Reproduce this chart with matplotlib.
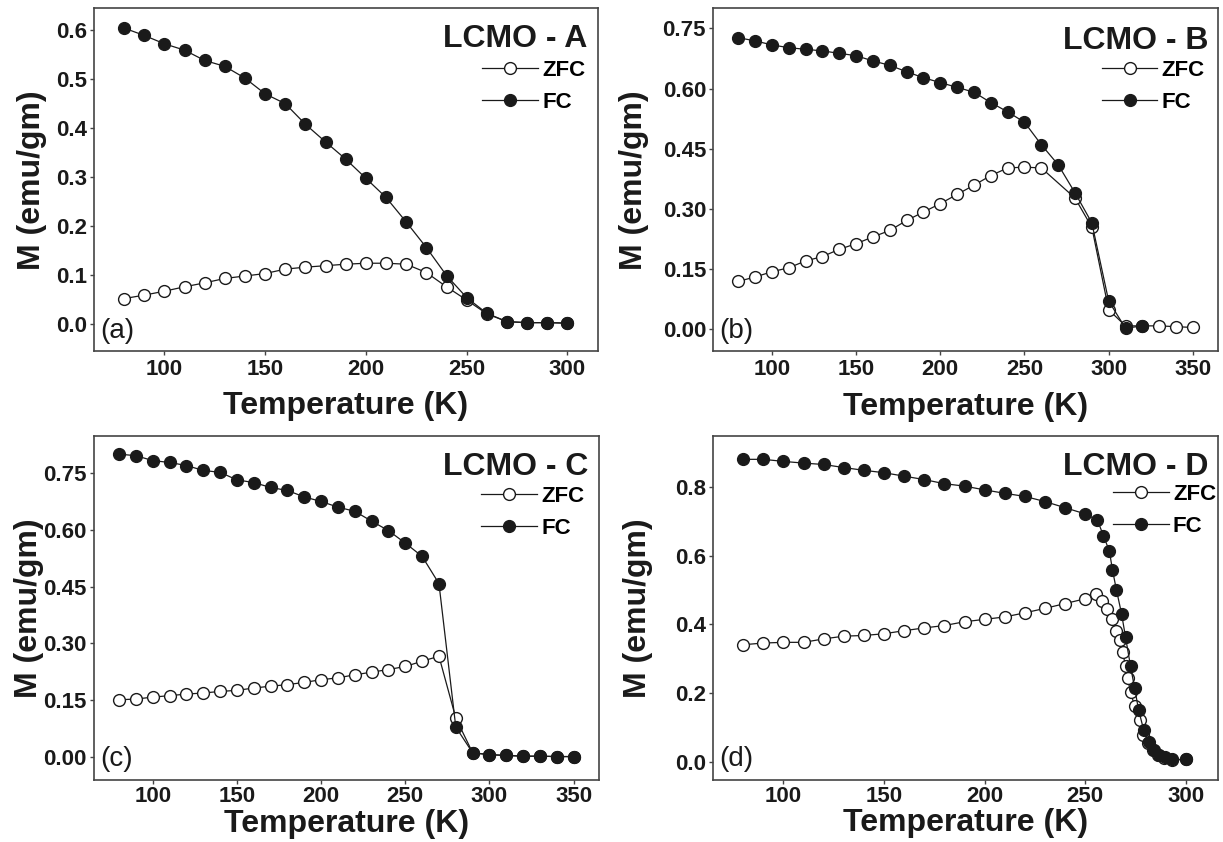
import matplotlib
matplotlib.use('Agg')
import matplotlib.pyplot as plt

plt.rcParams['font.family'] = ['Liberation Sans', 'DejaVu Sans']

# ---- data (T in K, M in emu/gm) ----
T_a = [80, 90, 100, 110, 120, 130, 140, 150, 160, 170, 180, 190, 200, 210, 220,
       230, 240, 250, 260, 270, 280, 290, 300]
fc_a = [0.603, 0.588, 0.571, 0.558, 0.537, 0.525, 0.501, 0.469, 0.449, 0.407, 0.371,
        0.336, 0.297, 0.258, 0.208, 0.156, 0.099, 0.054, 0.022, 0.005, 0.003, 0.003, 0.002]
zfc_a = [0.052, 0.059, 0.067, 0.076, 0.084, 0.093, 0.098, 0.103, 0.112, 0.116, 0.119,
         0.122, 0.124, 0.124, 0.122, 0.105, 0.076, 0.049, 0.021, 0.005, 0.003, 0.003, 0.002]

T_b_fc = [80, 90, 100, 110, 120, 130, 140, 150, 160, 170, 180, 190, 200, 210, 220,
          230, 240, 250, 260, 270, 280, 290, 300, 310, 320]
fc_b = [0.727, 0.719, 0.709, 0.702, 0.698, 0.694, 0.688, 0.682, 0.669, 0.658, 0.642,
        0.627, 0.615, 0.603, 0.591, 0.565, 0.542, 0.516, 0.460, 0.410, 0.340, 0.265,
        0.070, 0.002, 0.008]
T_b_zfc = [80, 90, 100, 110, 120, 130, 140, 150, 160, 170, 180, 190, 200, 210, 220,
           230, 240, 250, 260, 280, 290, 300, 310, 320, 330, 340, 350]
zfc_b = [0.119, 0.130, 0.143, 0.153, 0.170, 0.181, 0.199, 0.213, 0.230, 0.246, 0.271,
         0.292, 0.313, 0.336, 0.359, 0.383, 0.402, 0.404, 0.402, 0.327, 0.254, 0.048,
         0.008, 0.008, 0.008, 0.006, 0.004]

T_c = [80, 90, 100, 110, 120, 130, 140, 150, 160, 170, 180, 190, 200, 210, 220,
       230, 240, 250, 260, 270, 280, 290, 300, 310, 320, 330, 340, 350]
fc_c = [0.800, 0.796, 0.783, 0.778, 0.770, 0.757, 0.752, 0.732, 0.725, 0.712, 0.704,
        0.687, 0.675, 0.660, 0.649, 0.623, 0.598, 0.565, 0.530, 0.458, 0.079, 0.011,
        0.006, 0.004, 0.002, 0.002, 0.001, 0.001]
zfc_c = [0.151, 0.153, 0.158, 0.162, 0.166, 0.169, 0.173, 0.176, 0.182, 0.187, 0.191,
         0.197, 0.204, 0.209, 0.217, 0.224, 0.231, 0.239, 0.253, 0.266, 0.103, 0.011,
         0.006, 0.004, 0.002, 0.002, 0.001, 0.001]

T_d_fc = [80, 90, 100, 110, 120, 130, 140, 150, 160, 170, 180, 190, 200, 210, 220,
          230, 240, 250, 256, 259, 262, 263.5, 265.5, 268, 270, 272.5, 274.5, 276.5,
          279, 281.5, 284, 286.5, 289.5, 293, 300]
fc_d = [0.881, 0.881, 0.875, 0.870, 0.866, 0.857, 0.849, 0.842, 0.832, 0.822, 0.810,
        0.803, 0.792, 0.782, 0.773, 0.758, 0.740, 0.722, 0.704, 0.659, 0.613, 0.559,
        0.500, 0.432, 0.363, 0.278, 0.215, 0.151, 0.093, 0.059, 0.034, 0.020, 0.013,
        0.007, 0.007]
T_d_zfc = [80, 90, 100, 110, 120, 130, 140, 150, 160, 170, 180, 190, 200, 210, 220,
           230, 240, 250, 255.5, 258.5, 261, 263.5, 265.5, 267, 268.5, 270, 271, 272.5,
           274.5, 277, 278.5, 281, 283.5, 286, 289, 293, 300]
zfc_d = [0.341, 0.346, 0.348, 0.348, 0.358, 0.366, 0.368, 0.373, 0.382, 0.390, 0.397,
         0.408, 0.415, 0.422, 0.434, 0.447, 0.461, 0.475, 0.488, 0.468, 0.444, 0.417,
         0.380, 0.356, 0.319, 0.280, 0.244, 0.202, 0.163, 0.122, 0.078, 0.054, 0.034,
         0.020, 0.010, 0.005, 0.007]

panels = [
    # name, tag, T_zfc, zfc, T_fc, fc, axes rect, xlim, xticks, ylim, yticks, fmt
    ('LCMO - A', '(a)', T_a, zfc_a, T_a, fc_a, [0.0767, 0.583, 0.412, 0.407],
     (65, 315), [100, 150, 200, 250, 300], (-0.055, 0.643), [0, 0.1, 0.2, 0.3, 0.4, 0.5, 0.6], '%.1f'),
    ('LCMO - B', '(b)', T_b_zfc, zfc_b, T_b_fc, fc_b, [0.583, 0.583, 0.413, 0.407],
     (65, 365), [100, 150, 200, 250, 300, 350], (-0.055, 0.80), [0, 0.15, 0.30, 0.45, 0.60, 0.75], '%.2f'),
    ('LCMO - C', '(c)', T_c, zfc_c, T_c, fc_c, [0.0767, 0.0736, 0.413, 0.4086],
     (65, 365), [100, 150, 200, 250, 300, 350], (-0.061, 0.848), [0, 0.15, 0.30, 0.45, 0.60, 0.75], '%.2f'),
    ('LCMO - D', '(d)', T_d_zfc, zfc_d, T_d_fc, fc_d, [0.583, 0.0736, 0.413, 0.4086],
     (65, 316), [100, 150, 200, 250, 300], (-0.053, 0.949), [0, 0.2, 0.4, 0.6, 0.8], '%.1f'),
]

# per panel fine placement: ylabel x, xlabel y (centres), title y, legend anchor, tick pad
place = [
    dict(ylx=-0.123, xly=-0.160, ty=0.912, leg=(0.976, 0.850), xpad=3),
    dict(ylx=-0.156, xly=-0.163, ty=0.905, leg=(0.974, 0.850), xpad=3),
    dict(ylx=-0.129, xly=-0.128, ty=0.910, leg=(0.971, 0.855), xpad=1),
    dict(ylx=-0.148, xly=-0.126, ty=0.910, leg=(0.996, 0.860), xpad=1),
]

fig = plt.figure(figsize=(12.23, 8.42), dpi=100)
ink = '#1a1a1a'

for p, pl in zip(panels, place):
    name, tag, tz, mz, tf, mf, rect, xl, xt, yl, yt, fmt = p
    ax = fig.add_axes(rect)
    ax.plot(tz, mz, '-o', color=ink, lw=0.9, ms=8.5, mfc='white', mec=ink, mew=1.0,
            label='ZFC', zorder=3)
    ax.plot(tf, mf, '-o', color=ink, lw=0.9, ms=8.5, mfc=ink, mec=ink,
            label='FC', zorder=4)
    ax.set_xlim(xl)
    ax.set_ylim(yl)
    ax.set_xticks(xt)
    ax.set_yticks(yt)
    ax.set_yticklabels([fmt % v for v in yt])
    for s in ax.spines.values():
        s.set_color('#444444')
        s.set_linewidth(1.2)
    ax.tick_params(direction='out', length=3, width=1, color='#444444',
                   labelsize=16, labelcolor=ink)
    ax.tick_params(axis='x', pad=pl['xpad'])
    ax.tick_params(axis='y', pad=2)
    for lab in ax.get_xticklabels() + ax.get_yticklabels():
        lab.set_fontweight('bold')

    ax.set_xlabel('Temperature (K)', fontsize=23, fontweight='bold', color=ink, va='center')
    ax.set_ylabel('M (emu/gm)', fontsize=23, fontweight='bold', color=ink, va='center')
    ax.xaxis.set_label_coords(0.5, pl['xly'])
    ax.yaxis.set_label_coords(pl['ylx'], 0.5)

    ax.text(0.98, pl['ty'], name, transform=ax.transAxes, ha='right', va='center',
            fontsize=23, fontweight='bold', color=ink)
    ax.text(0.012, 0.06, tag, transform=ax.transAxes, ha='left', va='center',
            fontsize=20, color=ink)
    ax.legend(loc='upper right', bbox_to_anchor=pl['leg'], frameon=False,
              handlelength=2.5, handletextpad=0.2, labelspacing=0.5,
              borderaxespad=0, borderpad=0, prop={'weight': 'bold', 'size': 16})

fig.savefig('out.png', dpi=100)
